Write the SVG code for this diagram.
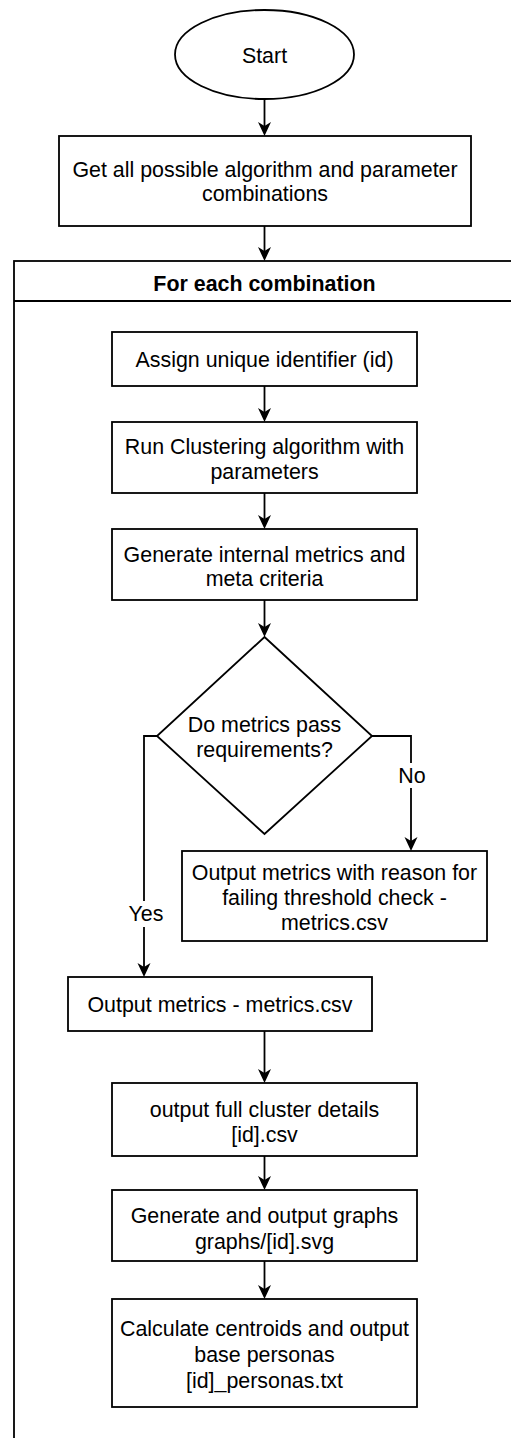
<svg xmlns="http://www.w3.org/2000/svg" width="511" height="1438" viewBox="0 0 511 1438">
<style>
.s{fill:#fff;stroke:#000;stroke-width:1.8}
.c{fill:none;stroke:#000;stroke-width:1.8}
text{font-family:"Liberation Sans",Arial,sans-serif;font-size:21.4px;fill:#000;text-anchor:middle}
.b{font-weight:bold}
.lbl{fill:#fff;stroke:none}
</style>
<defs>
<marker id="arr" viewBox="0 0 14 14" refX="4" refY="7" markerWidth="14" markerHeight="14" markerUnits="userSpaceOnUse" orient="auto">
<path d="M0,0.5 L14,7 L0,13.5 L4,7 Z" fill="#000"/>
</marker>
</defs>
<rect width="511" height="1438" fill="#fff"/>
<g id="container">
<rect class="s" x="14" y="261" width="520" height="1200"/>
<line class="c" x1="14" y1="301" x2="534" y2="301"/>
<text class="b" x="264.5" y="290.5">For each combination</text>
</g>
<g id="start">
<ellipse class="s" cx="264.5" cy="54.5" rx="89.5" ry="44.5"/>
<text x="264.5" y="63">Start</text>
</g>
<g id="getall">
<rect class="s" x="59" y="136" width="412" height="90"/>
<text x="265" y="176.5">Get all possible algorithm and parameter</text>
<text x="265" y="201">combinations</text>
</g>
<g id="assign">
<rect class="s" x="112" y="332" width="305" height="54"/>
<text x="264.5" y="367">Assign unique identifier (id)</text>
</g>
<g id="run">
<rect class="s" x="112" y="422" width="305" height="71"/>
<text x="264.5" y="453.5">Run Clustering algorithm with</text>
<text x="264.5" y="479">parameters</text>
</g>
<g id="generate">
<rect class="s" x="112" y="529" width="305" height="71"/>
<text x="264.5" y="561.5">Generate internal metrics and</text>
<text x="264.5" y="586">meta criteria</text>
</g>
<g id="decision">
<path class="s" d="M264.5,637 L372,736 L264.5,834 L157,736 Z"/>
<text x="264.5" y="731.5">Do metrics pass</text>
<text x="264.5" y="756.5">requirements?</text>
</g>
<g id="fail">
<rect class="s" x="182" y="851" width="305" height="90"/>
<text x="334.5" y="880">Output metrics with reason for</text>
<text x="334.5" y="905">failing threshold check -</text>
<text x="334.5" y="930">metrics.csv</text>
</g>
<g id="outmetrics">
<rect class="s" x="68" y="977" width="304" height="54"/>
<text x="220" y="1012">Output metrics - metrics.csv</text>
</g>
<g id="details">
<rect class="s" x="112" y="1083" width="305" height="73"/>
<text x="264.5" y="1116.5">output full cluster details</text>
<text x="264.5" y="1142">[id].csv</text>
</g>
<g id="graphs">
<rect class="s" x="112" y="1190" width="305" height="71"/>
<text x="264.5" y="1222.5">Generate and output graphs</text>
<text x="264.5" y="1249">graphs/[id].svg</text>
</g>
<g id="personas">
<rect class="s" x="112" y="1299" width="305" height="108"/>
<text x="264.5" y="1336">Calculate centroids and output</text>
<text x="264.5" y="1361.5">base personas</text>
<text x="264.5" y="1387.5">[id]_personas.txt</text>
</g>
<g id="connectors">
<path class="c" d="M264.5,99 V126" marker-end="url(#arr)"/>
<path class="c" d="M264.5,226 V251" marker-end="url(#arr)"/>
<path class="c" d="M264.5,386 V412" marker-end="url(#arr)"/>
<path class="c" d="M264.5,493 V519" marker-end="url(#arr)"/>
<path class="c" d="M264.5,600 V627" marker-end="url(#arr)"/>
<path class="c" d="M157,736 H144 V967" marker-end="url(#arr)"/>
<path class="c" d="M372,736 H411 V841" marker-end="url(#arr)"/>
<path class="c" d="M264.5,1031 V1073" marker-end="url(#arr)"/>
<path class="c" d="M264.5,1156 V1180" marker-end="url(#arr)"/>
<path class="c" d="M264.5,1261 V1289" marker-end="url(#arr)"/>
<rect class="lbl" x="130" y="901" width="30" height="26"/>
<text x="146" y="921">Yes</text>
<rect class="lbl" x="398" y="763" width="28" height="25"/>
<text x="412" y="782.5">No</text>
</g>
</svg>
